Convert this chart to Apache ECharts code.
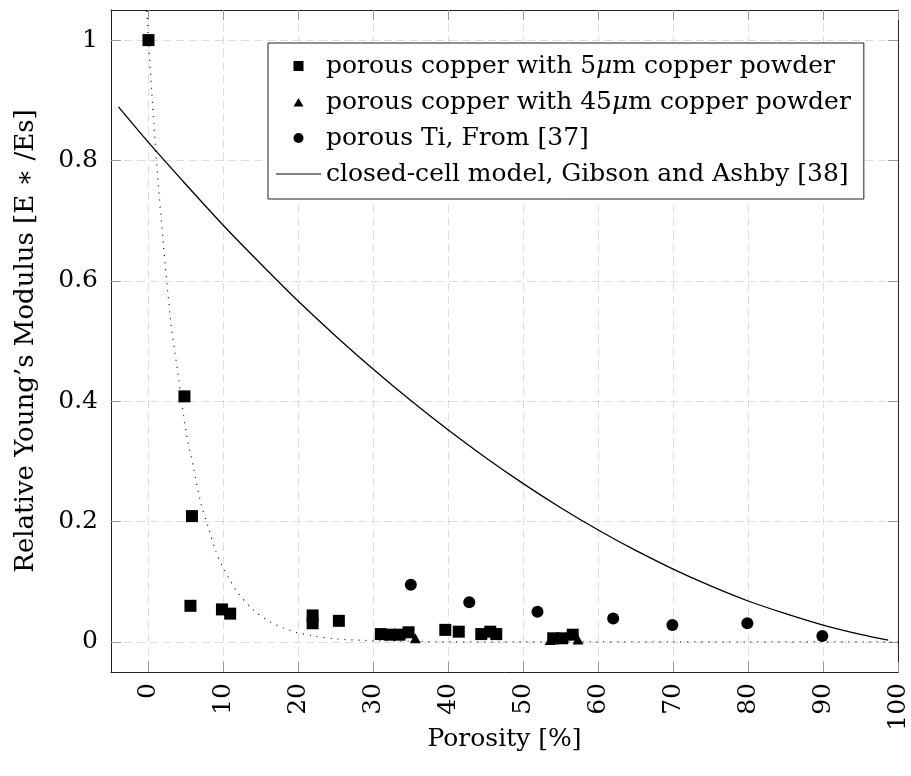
<!DOCTYPE html>
<html>
<head>
<meta charset="utf-8">
<script src="https://cdn.jsdelivr.net/npm/echarts@6/dist/echarts.min.js"></script>
<style>
  html, body { margin: 0; padding: 0; background: #fff; }
  #chart { width: 911px; height: 776px; }
</style>
</head>
<body>
<div id="chart"></div>
<script>
// Tick positions
const xTicks = [0, 10, 20, 30, 40, 50, 60, 70, 80, 90, 100];
const yTicks = [0, 0.2, 0.4, 0.6, 0.8, 1];

// Porous copper, 5 µm powder
const cu5Porosity = [0, 4.8, 5.8, 5.6, 9.8, 10.9, 21.9, 21.9, 25.4, 31.0, 32.2, 33.5, 34.7, 39.6, 41.4, 44.4, 45.6, 46.4, 54.0, 55.2, 56.6];
const cu5Modulus  = [1.0, 0.408, 0.209, 0.06, 0.054, 0.047, 0.044, 0.031, 0.035, 0.013, 0.012, 0.012, 0.016, 0.02, 0.017, 0.013, 0.017, 0.013, 0.006, 0.006, 0.012];

// Porous copper, 45 µm powder
const cu45Porosity = [35.6, 53.6, 57.3];
const cu45Modulus  = [0.006, 0.003, 0.004];

// Porous Ti [37]
const tiPorosity = [35.0, 42.8, 51.9, 62.0, 69.9, 79.9, 89.9];
const tiModulus  = [0.095, 0.066, 0.05, 0.039, 0.028, 0.031, 0.010];

// Closed-cell model, Gibson and Ashby [38]
const modelPorosity = [-4, 0, 5, 10, 15, 20, 25, 30, 35, 40, 45, 50, 55, 60, 65, 70, 75, 80, 85, 90, 95, 98.7];
const modelModulus  = [0.889, 0.83, 0.76, 0.692, 0.628, 0.566, 0.508, 0.453, 0.401, 0.352, 0.306, 0.263, 0.223, 0.186, 0.152, 0.121, 0.093, 0.068, 0.047, 0.028, 0.0125, 0.003];

// Dotted decay curve through the 5 µm data
const fitPorosity = [-0.25, 0, 1, 2, 3, 4, 5, 6, 7, 8, 9, 10, 11, 12, 14, 16, 18, 20, 22, 25, 30, 35, 40, 50, 60, 70, 80, 90, 100];
const fitModulus  = [1.06, 1.0, 0.81, 0.66, 0.53, 0.44, 0.35, 0.29, 0.23, 0.19, 0.15, 0.122, 0.1, 0.08, 0.053, 0.035, 0.023, 0.015, 0.01, 0.005, 0.002, 0.001, 0, 0, 0, 0, 0, 0, 0];

const names = [
  'porous copper with 5μm copper powder',
  'porous copper with 45μm copper powder',
  'porous Ti, From [37]',
  'closed-cell model, Gibson and Ashby [38]'
];

const FONT = 'DejaVu Serif';
const zip = (xs, ys) => xs.map((x, i) => [x, ys[i]]);

// Legend glyphs inside a fixed 45x10 box so they keep their own proportions
const BOX = 'M0,0 M45,10 ';
const legendIcons = {
  square:   'path://' + BOX + 'M17.5,0 L27.5,0 L27.5,10 L17.5,10 Z',
  triangle: 'path://' + BOX + 'M22.5,1 L27.5,9.5 L17.5,9.5 Z',
  circle:   'path://' + BOX + 'M17.5,5 A5,5 0 1 1 27.5,5 A5,5 0 1 1 17.5,5 Z',
  line:     'path://' + BOX + 'M0,4.4 L45,4.4 L45,5.6 L0,5.6 Z'
};

const gridLine = { show: true, lineStyle: { color: '#dcdcdc', width: 1, type: [8, 5] } };
const frameLine = { show: true, onZero: false, lineStyle: { color: '#222', width: 1 } };
const tickStyle = { show: true, inside: true, length: 10, lineStyle: { color: '#999', width: 1 } };

const chart = echarts.init(document.getElementById('chart'), null, { renderer: 'canvas' });

chart.setOption({
  animation: false,
  backgroundColor: '#fff',
  grid: { left: 111, right: 13, top: 10, bottom: 104, containLabel: false },
  xAxis: [{
    type: 'value', min: -5, max: 100, position: 'bottom',
    name: 'Porosity [%]', nameLocation: 'middle', nameGap: 55, nameMoveOverlap: false,
    nameTextStyle: { fontFamily: FONT, fontSize: 25, color: '#000' },
    axisLine: frameLine,
    axisTick: Object.assign({ customValues: xTicks }, tickStyle),
    axisLabel: { customValues: xTicks, rotate: 90, margin: 11, fontFamily: FONT, fontSize: 25, color: '#000' },
    splitLine: gridLine
  }, {
    type: 'value', min: -5, max: 100, position: 'top',
    axisLine: frameLine,
    axisTick: Object.assign({ customValues: xTicks }, tickStyle),
    axisLabel: { show: false },
    splitLine: { show: false }
  }],
  yAxis: [{
    type: 'value', min: -0.05, max: 1.05, position: 'left',
    name: 'Relative Young’s Modulus [E ∗ /Es]', nameLocation: 'middle', nameGap: 72,
    nameTextStyle: { fontFamily: FONT, fontSize: 26, color: '#000' },
    axisLine: frameLine,
    axisTick: Object.assign({ customValues: yTicks }, tickStyle),
    axisLabel: { customValues: yTicks, margin: 13, fontFamily: FONT, fontSize: 25, color: '#000',
                 formatter: v => (Math.round(v * 10) / 10).toString() },
    splitLine: gridLine
  }, {
    type: 'value', min: -0.05, max: 1.05, position: 'right',
    axisLine: frameLine,
    axisTick: Object.assign({ customValues: yTicks }, tickStyle),
    axisLabel: { show: false },
    splitLine: { show: false }
  }],
  legend: {
    orient: 'vertical', left: 268, top: 43,
    backgroundColor: '#fff', borderColor: '#222', borderWidth: 1, borderRadius: 0,
    padding: [8, 13, 10, 8], itemGap: 6, itemWidth: 45, itemHeight: 10,
    textStyle: { fontFamily: FONT, fontSize: 25, color: '#000', lineHeight: 30,
                 rich: { i: { fontFamily: FONT, fontSize: 25, fontStyle: 'italic', color: '#000' } } },
    formatter: n => n.replace('μ', '{i|μ}'),
    data: [
      { name: names[0], icon: legendIcons.square },
      { name: names[1], icon: legendIcons.triangle },
      { name: names[2], icon: legendIcons.circle },
      { name: names[3], icon: legendIcons.line }
    ]
  },
  series: [
    {
      name: 'fit', type: 'line', data: zip(fitPorosity, fitModulus),
      showSymbol: false, symbol: 'none', smooth: 0.3, clip: true, silent: true,
      lineStyle: { color: '#000', width: 1.2, type: [1, 6] }, z: 2
    },
    {
      name: names[3], type: 'line', data: zip(modelPorosity, modelModulus),
      showSymbol: false, symbol: 'none', smooth: 0.3, clip: true,
      lineStyle: { color: '#000', width: 1.3 }, itemStyle: { color: '#000' }, z: 3
    },
    {
      name: names[0], type: 'scatter', data: zip(cu5Porosity, cu5Modulus),
      symbol: 'rect', symbolSize: 12, itemStyle: { color: '#000', opacity: 1 }, z: 4
    },
    {
      name: names[1], type: 'scatter', data: zip(cu45Porosity, cu45Modulus),
      symbol: 'triangle', symbolSize: [11, 10], itemStyle: { color: '#000', opacity: 1 }, z: 4
    },
    {
      name: names[2], type: 'scatter', data: zip(tiPorosity, tiModulus),
      symbol: 'circle', symbolSize: 12, itemStyle: { color: '#000', opacity: 1 }, z: 4
    }
  ]
});
</script>
</body>
</html>
